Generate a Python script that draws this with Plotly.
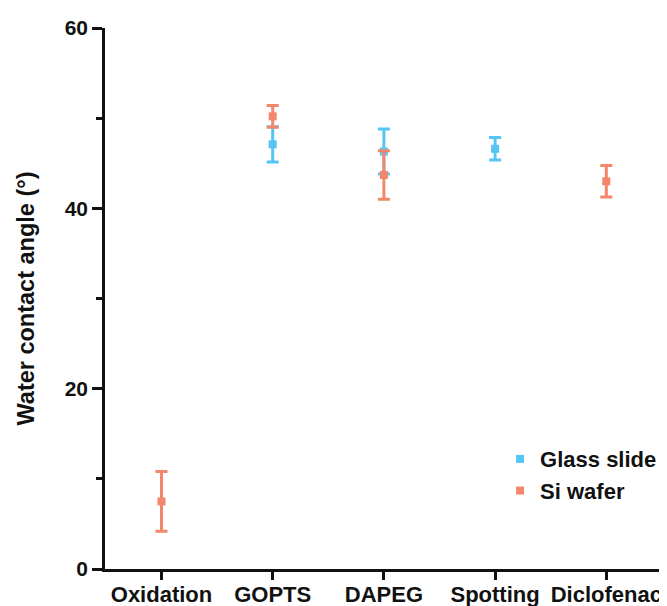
import plotly.graph_objects as go

categories = ["Oxidation", "GOPTS", "DAPEG", "Spotting", "Diclofenac"]

glass_x = ["GOPTS", "DAPEG", "Spotting"]
glass_y = [47.1, 46.3, 46.6]
glass_err = [1.95, 2.5, 1.25]

si_x = ["Oxidation", "GOPTS", "DAPEG", "Diclofenac"]
si_y = [7.5, 50.2, 43.7, 43.0]
si_err = [3.3, 1.2, 2.7, 1.75]

y_ticks = [0, 20, 40, 60]

BLUE = "#55C5F3"
ORANGE = "#F2876B"
FONT = "Liberation Sans, Arial, sans-serif"

# the page body adds an 8px offset; figure size and margins compensate for it
W, H = 659, 598
L, T, R, B = 97, 20, 0, 37
PW = W - L - R

fig = go.Figure()
fig.add_trace(go.Scatter(
    x=glass_x, y=glass_y, mode="markers", name="Glass slide",
    marker=dict(symbol="square", size=8, color=BLUE),
    error_y=dict(type="data", array=glass_err, color=BLUE, thickness=3, width=6),
))
fig.add_trace(go.Scatter(
    x=si_x, y=si_y, mode="markers", name="Si wafer",
    marker=dict(symbol="square", size=8, color=ORANGE),
    error_y=dict(type="data", array=si_err, color=ORANGE, thickness=3, width=6),
))

fig.update_layout(
    width=W, height=H,
    margin=dict(l=L, r=R, t=T, b=B, autoexpand=False),
    paper_bgcolor="white", plot_bgcolor="white",
    font=dict(family=FONT, size=22, color="#111"),
    showlegend=True,
    legend=dict(x=0.703, y=0.242, xanchor="left", yanchor="top",
                font=dict(size=22, family=FONT, weight="bold"),
                bgcolor="rgba(0,0,0,0)", tracegroupgap=0),
    xaxis=dict(
        type="category", categoryorder="array", categoryarray=categories,
        tickvals=categories, ticktext=["<b>%s</b>" % c for c in categories],
        range=[-0.508, 4.546], showline=True, linecolor="#111", linewidth=2.5,
        ticks="outside", ticklen=8, tickwidth=2.5, tickcolor="#111",
        ticklabelstandoff=-4,
        showgrid=False, zeroline=False, automargin=False,
        tickfont=dict(size=22, family=FONT),
    ),
    yaxis=dict(
        range=[0, 60], tickvals=y_ticks, ticktext=["<b>%d</b>" % v for v in y_ticks],
        showline=True, linecolor="#111", linewidth=2.5,
        ticks="outside", ticklen=10, tickwidth=2.5, tickcolor="#111",
        minor=dict(dtick=10, ticks="outside", ticklen=6, tickwidth=2.5, tickcolor="#111", showgrid=False),
        showgrid=False, zeroline=False, automargin=False,
        tickfont=dict(size=21, family=FONT),
    ),
    annotations=[dict(
        text="<b>Water contact angle (°)</b>", textangle=-90,
        xref="paper", yref="paper", x=(17 - L) / PW, y=0.5,
        xanchor="center", yanchor="middle", showarrow=False,
        font=dict(size=23.5, family=FONT, color="#111"),
    )],
)

fig.write_html("out.html")
